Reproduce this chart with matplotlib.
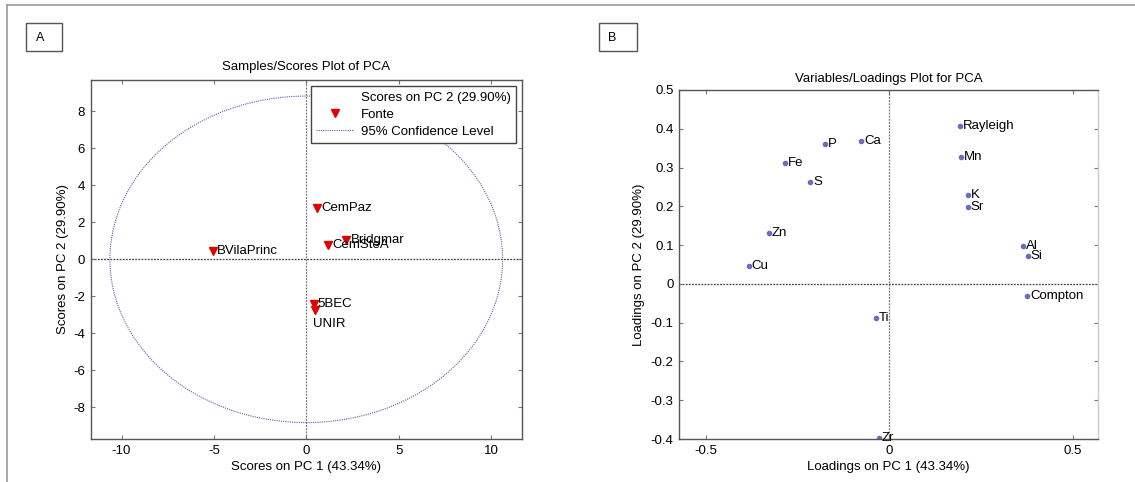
import matplotlib.pyplot as plt
from matplotlib.lines import Line2D
from matplotlib.patches import Ellipse, Rectangle
from matplotlib.ticker import FuncFormatter

plt.rcParams['font.family'] = ['Liberation Sans', 'DejaVu Sans']
plt.rcParams['axes.unicode_minus'] = False

# scores (panel A)
sample_names = ['BVilaPrinc', 'CemPaz', 'CemSteA', 'Bridgmar', '5BEC', 'UNIR']
pc1_scores = [-5.04, 0.59, 1.17, 2.17, 0.43, 0.47]
pc2_scores = [0.46, 2.76, 0.77, 1.04, -2.42, -2.74]
label_offsets = [(3, 0), (3, 0), (3.5, 0), (3.5, 0), (2.5, 0), (-1.5, -10)]
conf_radius_pc1 = 10.63
conf_radius_pc2 = 8.82

# loadings (panel B)
var_names = ['P', 'Ca', 'Fe', 'S', 'Zn', 'Cu', 'Rayleigh', 'Mn', 'K', 'Sr',
             'Al', 'Si', 'Compton', 'Ti', 'Zr']
pc1_load = [-0.175, -0.077, -0.284, -0.216, -0.328, -0.383, 0.193, 0.195,
            0.214, 0.214, 0.364, 0.377, 0.376, -0.036, -0.028]
pc2_load = [0.360, 0.369, 0.311, 0.263, 0.131, 0.046, 0.407, 0.326,
            0.228, 0.197, 0.098, 0.072, -0.031, -0.088, -0.398]

W, H = 1135, 482
fig = plt.figure(figsize=(W / 100, H / 100), dpi=100)
fs = 9.5
spine_col = '#555555'
dot_col = '#6b6bc4'

def style_axes(ax):
    for s in ax.spines.values():
        s.set_color(spine_col)
        s.set_linewidth(1.0)
    ax.tick_params(direction='in', top=True, right=True, length=3,
                   color='#777777', labelsize=fs, pad=4)
    ax.axhline(0, color='#444444', lw=0.9, ls=(0, (1.5, 1)), zorder=1)
    ax.axvline(0, color='#777777', lw=0.9, ls=(0, (1.5, 1)), zorder=1)

# ---- panel A
axA = fig.add_axes([90.7 / W, 1 - 439 / H, (522 - 90.7) / W, (439 - 80) / H])
style_axes(axA)
axA.add_patch(Ellipse((0, 0), 2 * conf_radius_pc1, 2 * conf_radius_pc2,
                      fill=False, edgecolor='#5d5dab', lw=0.8, ls=(0, (1, 1))))
axA.plot(pc1_scores, pc2_scores, 'v', color='#e00000', ms=6.3, mec='#e00000')
for name, x, y, off in zip(sample_names, pc1_scores, pc2_scores, label_offsets):
    axA.annotate(name, (x, y), xytext=off, textcoords='offset points',
                 ha='left', va='center', fontsize=fs)
axA.set_xlim(-11.67, 11.68)
axA.set_ylim(-9.71, 9.69)
axA.set_xticks([-10, -5, 0, 5, 10])
axA.set_yticks(range(-8, 9, 2))
axA.set_xlabel('Scores on PC 1 (43.34%)', fontsize=fs, labelpad=3)
axA.set_ylabel('Scores on PC 2 (29.90%)', fontsize=fs, labelpad=3)
axA.set_title('Samples/Scores Plot of PCA', fontsize=fs, pad=7)

handles = [Line2D([], [], ls='none'),
           Line2D([], [], ls='none', marker='v', color='#e00000', ms=6.3),
           Line2D([], [], color='#5d5dab', lw=0.8, ls=(0, (1, 1)))]
labels = ['Scores on PC 2 (29.90%)', 'Fonte', '95% Confidence Level']
leg = axA.legend(handles, labels, loc='upper right',
                 bbox_to_anchor=(0.986, 0.983), fontsize=fs, fancybox=False,
                 framealpha=1, edgecolor='#444444', handlelength=2.9,
                 handletextpad=0.5, labelspacing=0.36, borderpad=0.4,
                 borderaxespad=0)
leg.get_frame().set_linewidth(1.0)

# ---- panel B
axB = fig.add_axes([679.3 / W, 1 - 439 / H, (1097.7 - 679.3) / W, (439 - 90) / H])
style_axes(axB)
axB.spines['right'].set_color('#cccccc')
axB.plot(pc1_load, pc2_load, 'o', color=dot_col, ms=3)
for name, x, y in zip(var_names, pc1_load, pc2_load):
    axB.annotate(name, (x, y), xytext=(2, 0), textcoords='offset points',
                 ha='left', va='center', fontsize=fs)
axB.set_xlim(-0.573, 0.568)
axB.set_ylim(-0.4, 0.5)
axB.set_xticks([-0.5, 0, 0.5])
axB.set_yticks([-0.4, -0.3, -0.2, -0.1, 0, 0.1, 0.2, 0.3, 0.4, 0.5])
fmt = FuncFormatter(lambda v, p: '0' if abs(v) < 1e-9 else ('%g' % round(v, 2)))
axB.xaxis.set_major_formatter(fmt)
axB.yaxis.set_major_formatter(fmt)
axB.set_xlabel('Loadings on PC 1 (43.34%)', fontsize=fs, labelpad=3)
axB.set_ylabel('Loadings on PC 2 (29.90%)', fontsize=fs, labelpad=4)
axB.set_title('Variables/Loadings Plot for PCA', fontsize=fs, pad=6)

# panel letters and outer frame
for letter, x0, x1, tx in [('A', 26, 62, 40), ('B', 599, 637, 612)]:
    fig.add_artist(Rectangle((x0 / W, 1 - 51 / H), (x1 - x0) / W, 28 / H,
                             transform=fig.transFigure, fill=False,
                             edgecolor='#555555', lw=1.0))
    fig.text(tx / W, 1 - 38 / H, letter, ha='center', va='center', fontsize=9)
fig.add_artist(Line2D([7 / W, 1], [1 - 4.7 / H, 1 - 4.7 / H],
                      transform=fig.transFigure, color='#999999', lw=1.2))
fig.add_artist(Line2D([7 / W, 7 / W], [0, 1 - 4.7 / H],
                      transform=fig.transFigure, color='#999999', lw=1.2))

fig.savefig('out.png', dpi=100)
